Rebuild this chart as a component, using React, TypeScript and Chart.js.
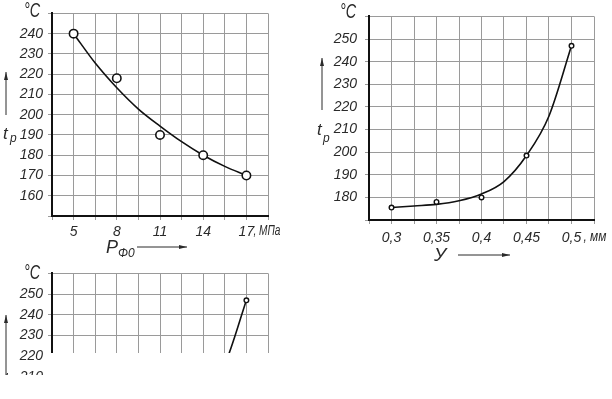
import React, { useEffect, useRef } from "react";
import { Chart, registerables } from "chart.js";

Chart.register(...registerables);

// ---- Chart 1: temperature vs pressure ----
const pressureX = [5, 8, 11, 14, 17];
const tempByPressure = [240, 218, 190, 180, 170];
const pressureFitX = [5, 6.5, 8, 9.5, 11, 12.5, 14, 15.5, 17];
const pressureFitY = [240, 225.5, 213.3, 202.8, 194.4, 186.7, 180, 174.5, 170];
const pressureTickLabels = ["5", "8", "11", "14", "17"];

// ---- Chart 2: temperature vs gap ----
const gapX = [0.3, 0.35, 0.4, 0.45, 0.5];
const tempByGap = [175.5, 178, 180, 198.5, 247];
const gapFitX = [0.3, 0.325, 0.35, 0.375, 0.4, 0.425, 0.45, 0.475, 0.5];
const gapFitY = [175.5, 176.2, 176.9, 178.5, 181.5, 187, 198.5, 216, 247];
const gapTickLabels = ["0,3", "0,35", "0,4", "0,45", "0,5"];

// ---- Chart 3 (cut-off copy) ----
const thirdX = [5, 8, 11, 14, 17];
const thirdY = [175.5, 178, 180, 198.5, 247];
const thirdFitX = [5, 6.5, 8, 9.5, 11, 12.5, 14, 15.5, 17];
const thirdFitY = [175.5, 176.2, 176.9, 178.5, 181.5, 187, 198.5, 216, 247];

const TEXT = "#2a2a2a";
const GRID = "#9a9a9a";
const FONT = '"Liberation Sans", Arial, sans-serif';

function arrow(ctx: CanvasRenderingContext2D, x1: number, y1: number, x2: number, y2: number) {
  ctx.save();
  ctx.strokeStyle = TEXT;
  ctx.fillStyle = TEXT;
  ctx.lineWidth = 1;
  ctx.beginPath();
  ctx.moveTo(x1, y1);
  ctx.lineTo(x2, y2);
  ctx.stroke();
  const ang = Math.atan2(y2 - y1, x2 - x1);
  const len = 8, hw = 2;
  const bx = x2 - Math.cos(ang) * len, by = y2 - Math.sin(ang) * len;
  ctx.beginPath();
  ctx.moveTo(x2, y2);
  ctx.lineTo(bx - Math.sin(ang) * hw, by + Math.cos(ang) * hw);
  ctx.lineTo(bx + Math.sin(ang) * hw, by - Math.cos(ang) * hw);
  ctx.closePath();
  ctx.fill();
  ctx.restore();
}

function text(ctx: CanvasRenderingContext2D, s: string, x: number, y: number, size: number, align: CanvasTextAlign = "left", baseline: CanvasTextBaseline = "alphabetic", sx = 1) {
  ctx.save();
  ctx.fillStyle = TEXT;
  ctx.font = `italic ${size}px ${FONT}`;
  ctx.textAlign = align;
  ctx.textBaseline = baseline;
  ctx.translate(x, y);
  ctx.scale(sx, 1);
  ctx.fillText(s, 0, 0);
  ctx.restore();
}

function labelFor(xs: number[], labels: string[]) {
  return (value: any) => {
    const i = xs.findIndex((v) => Math.abs(v - Number(value)) < 1e-6);
    return i >= 0 ? labels[i] : "";
  };
}

interface Opts {
  px: number[]; py: number[]; fx: number[]; fy: number[];
  xMin: number; xMax: number; xStep: number; yMin: number; yMax: number;
  xLabel: (v: any) => string; hideY: number[];
  radius: number; pborder: number;
  padding: { left: number; top: number; right: number; bottom: number };
  yWidth: number; xHeight: number; yPad: number; xPad: number;
  decor: (chart: any) => void;
}

function buildConfig(o: Opts): any {
  return {
    type: "line",
    data: {
      datasets: [
        {
          data: o.px.map((x, i) => ({ x, y: o.py[i] })),
          showLine: false,
          pointRadius: o.radius,
          pointBackgroundColor: "#fff",
          pointBorderColor: "#111",
          pointBorderWidth: o.pborder,
          order: 0,
        },
        {
          data: o.fx.map((x, i) => ({ x, y: o.fy[i] })),
          showLine: true,
          borderColor: "#111",
          borderWidth: 1.6,
          pointRadius: 0,
          cubicInterpolationMode: "monotone",
          fill: false,
          order: 1,
        },
      ],
    },
    options: {
      responsive: false,
      animation: false,
      layout: { padding: o.padding },
      plugins: { legend: { display: false }, tooltip: { enabled: false } },
      scales: {
        x: {
          type: "linear",
          min: o.xMin,
          max: o.xMax,
          afterFit: (s: any) => { s.height = o.xHeight; },
          ticks: {
            stepSize: o.xStep,
            autoSkip: false,
            maxRotation: 0,
            padding: o.xPad,
            color: TEXT,
            font: { family: FONT, size: 14, style: "italic" },
            callback: o.xLabel,
          },
          grid: { color: GRID, lineWidth: 1, tickLength: 4, tickColor: GRID },
          border: { color: "#111", width: 2 },
        },
        y: {
          type: "linear",
          min: o.yMin,
          max: o.yMax,
          afterFit: (s: any) => { s.width = o.yWidth; },
          ticks: {
            stepSize: 10,
            autoSkip: false,
            padding: o.yPad,
            color: TEXT,
            font: { family: FONT, size: 14, style: "italic" },
            callback: (v: any) => (o.hideY.includes(Number(v)) ? "" : String(v)),
          },
          grid: { color: GRID, lineWidth: 1, tickLength: 4, tickColor: GRID },
          border: { color: "#111", width: 2 },
        },
      },
    },
    plugins: [{ id: "decor", afterDraw: (chart: any) => o.decor(chart) }],
  };
}

function decor1(chart: any) {
  const ctx = chart.ctx;
  text(ctx, "°C", 32, 11, 20, "center", "middle", 0.72);
  arrow(ctx, 6, 115, 6, 72);
  text(ctx, "t", 3, 139, 17);
  text(ctx, "p", 10, 142, 12);
  text(ctx, "P", 106, 253, 18);
  text(ctx, "Φ0", 118, 257, 12);
  arrow(ctx, 137, 247, 187, 247);
  const x17 = chart.scales.x.getPixelForValue(17);
  text(ctx, ", МПа", x17 + 7, 224, 14, "left", "top", 0.72);
}

function decor2(chart: any) {
  const ctx = chart.ctx;
  text(ctx, "°C", 48, 12, 20, "center", "middle", 0.72);
  arrow(ctx, 22, 110, 22, 58);
  text(ctx, "t", 17, 135, 17);
  text(ctx, "p", 23, 142, 12);
  text(ctx, "У", 134, 261, 19);
  arrow(ctx, 158, 255, 210, 255);
  const x5 = chart.scales.x.getPixelForValue(0.5);
  text(ctx, ", мм", x5 + 12, 230, 14, "left", "top", 0.85);
}

function decor3(chart: any) {
  const ctx = chart.ctx;
  text(ctx, "°C", 32, 13, 20, "center", "middle", 0.72);
  arrow(ctx, 6, 125, 6, 55);
  text(ctx, "t", 4, 124, 17);
  text(ctx, "p", 11, 127, 12);
}

function Plot({ config, width, height, left, top }: { config: () => any; width: number; height: number; left: number; top: number }) {
  const ref = useRef<HTMLCanvasElement>(null);
  useEffect(() => {
    const chart = new Chart(ref.current as HTMLCanvasElement, config());
    return () => chart.destroy();
  }, []);
  return (
    <canvas
      ref={ref}
      width={width}
      height={height}
      style={{ position: "absolute", left, top, width, height }}
    />
  );
}

export default function App() {
  const cfg1 = () =>
    buildConfig({
      px: pressureX, py: tempByPressure, fx: pressureFitX, fy: pressureFitY,
      xMin: 3.5, xMax: 18.5, xStep: 1.5, yMin: 150, yMax: 250,
      xLabel: labelFor(pressureX, pressureTickLabels), hideY: [150, 250],
      radius: 4.2, pborder: 1.6,
      padding: { left: 0, top: 9, right: 32, bottom: 0 },
      yWidth: 52, xHeight: 54, yPad: 5, xPad: 4, decor: decor1,
    });
  const cfg2 = () =>
    buildConfig({
      px: gapX, py: tempByGap, fx: gapFitX, fy: gapFitY,
      xMin: 0.275, xMax: 0.525, xStep: 0.025, yMin: 170, yMax: 260,
      xLabel: labelFor(gapX, gapTickLabels), hideY: [170, 260],
      radius: 2.3, pborder: 1.4,
      padding: { left: 0, top: 12, right: 18, bottom: 0 },
      yWidth: 69, xHeight: 50, yPad: 8, xPad: 6, decor: decor2,
    });
  const cfg3 = () =>
    buildConfig({
      px: thirdX, py: thirdY, fx: thirdFitX, fy: thirdFitY,
      xMin: 3.5, xMax: 18.5, xStep: 1.5, yMin: 170, yMax: 260,
      xLabel: () => "", hideY: [170, 260],
      radius: 2.3, pborder: 1.4,
      padding: { left: 0, top: 13, right: 32, bottom: 0 },
      yWidth: 52, xHeight: 70, yPad: 5, xPad: 4, decor: decor3,
    });
  return (
    <div style={{ position: "absolute", left: 0, top: 0, width: 612, height: 399, background: "#fff", overflow: "hidden" }}>
      <Plot config={cfg1} width={300} height={270} left={0} top={0} />
      <Plot config={cfg2} width={312} height={270} left={300} top={0} />
      <div style={{ position: "absolute", left: 0, top: 260, width: 300, height: 115, overflow: "hidden" }}>
        <Plot config={cfg3} width={300} height={270} left={0} top={0} />
        <div style={{ position: "absolute", left: 47, top: 93, width: 253, height: 30, background: "#fff" }} />
      </div>
    </div>
  );
}
